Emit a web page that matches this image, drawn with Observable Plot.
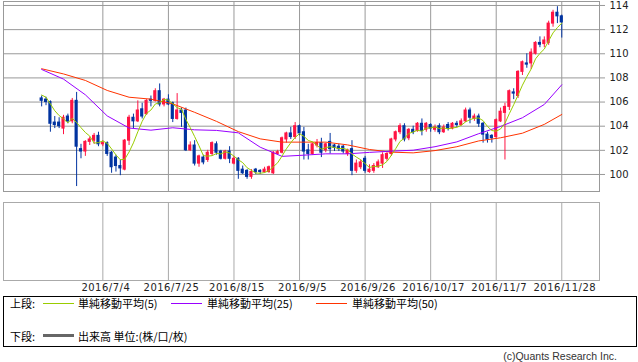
<!DOCTYPE html>
<html>
<head>
<meta charset="utf-8">
<script src="https://cdn.jsdelivr.net/npm/d3@7"></script>
<script src="https://cdn.jsdelivr.net/npm/@observablehq/plot@0.6"></script>
<style>
  html, body { margin: 0; padding: 0; background: #fff; }
  #wrap { position: relative; width: 638px; height: 362px; overflow: hidden; font-family: "DejaVu Sans", sans-serif; }
  #upper, #lower { position: absolute; left: 0; }
  #upper { top: 0; }
  #lower { top: 193px; }
  .box { position: absolute; left: 3px; top: 296px; width: 634px; height: 51px; border: 1px solid #000; box-sizing: border-box; }
  .t { position: absolute; font-family: "Noto Sans CJK JP", sans-serif; font-size: 11px; line-height: 12px; color: #000; white-space: nowrap; }
  .sw { position: absolute; height: 1px; width: 31px; }
  .copy { position: absolute; right: 21px; top: 350px; font-family: "Liberation Sans", sans-serif; font-size: 10.5px; color: #333; white-space: nowrap; }
</style>
</head>
<body>
<div id="wrap">
  <div id="upper"></div>
  <div id="lower"></div>
  <div class="box"></div>
  <span class="t" style="left:10px;top:297px">上段:</span>
  <div class="sw" id="sw5" style="left:43px;top:303px"></div>
  <span class="t" id="lg5" style="left:78px;top:297px"></span>
  <div class="sw" id="sw25" style="left:171px;top:303px"></div>
  <span class="t" id="lg25" style="left:207px;top:297px"></span>
  <div class="sw" id="sw50" style="left:316px;top:303px"></div>
  <span class="t" id="lg50" style="left:352px;top:297px"></span>
  <span class="t" style="left:10px;top:330px">下段:</span>
  <div class="sw" style="left:43px;top:334px;height:3px;background:#666"></div>
  <span class="t" id="lgVol" style="left:78px;top:330px"></span>
  <div class="copy" id="copy"></div>
</div>
<script>
// ---- data (USD/JPY daily, 2016/6/14 - 2016/11/28) ----
const startDate = "2016-06-14";
const endDate = "2016-11-28";
const open  = [106.3,106.2,106.0,104.3,104.3,103.8,104.8,104.4,106.1,102.1,101.9,102.7,102.8,103.2,102.5,102.6,101.8,101.4,100.7,100.4,
               102.8,104.7,104.4,105.4,105.0,106.2,106.1,106.9,105.8,106.2,105.9,104.6,105.3,105.3,102.0,102.4,100.9,101.4,101.2,101.7,
               102.5,101.9,101.3,101.9,100.9,101.3,100.4,100.3,99.8,100.4,100.3,100.2,100.2,100.1,101.7,101.8,102.9,103.4,103.1,104.0,
               103.5,102.0,101.7,102.4,102.6,102.0,102.7,102.4,102.3,102.3,101.7,102.1,100.3,100.6,101.3,100.2,100.3,100.6,100.9,101.3,
               101.7,102.9,103.5,104.0,103.0,103.7,103.6,104.2,103.7,104.1,103.7,104.0,103.5,104.1,103.8,104.2,104.1,104.4,105.3,104.6,
               104.8,104.2,103.3,103.2,103.1,104.4,105.1,105.6,106.8,106.5,108.5,109.2,109.2,110.0,110.9,110.8,110.9,112.5,113.4,113.1];
const high  = [106.5,106.4,106.1,104.8,104.7,104.9,105.0,106.3,106.8,102.5,102.8,103.1,103.4,103.5,102.8,102.7,101.9,101.6,101.2,102.9,
               104.9,105.0,106.1,105.9,106.2,106.5,107.1,107.5,106.3,106.6,106.0,106.7,105.5,105.5,102.7,102.8,101.6,101.6,102.0,102.7,
               102.7,102.0,102.0,102.3,101.5,101.4,100.7,100.4,100.4,100.5,100.4,100.6,100.7,101.9,102.0,103.1,103.5,103.9,104.3,104.1,
               103.9,102.5,102.6,102.9,103.0,102.6,103.4,102.5,102.5,102.4,102.1,102.8,101.2,101.2,101.5,100.8,100.9,101.2,101.8,101.8,
               103.0,103.6,104.2,104.2,103.8,104.0,104.3,104.6,104.3,104.2,104.1,104.2,104.1,104.3,104.3,104.4,104.6,105.5,105.5,105.0,
               105.0,104.3,103.5,103.3,104.6,105.5,105.9,107.0,107.1,108.6,109.4,110.0,110.4,111.0,111.4,111.4,112.7,113.6,113.9,113.2];
const low   = [105.6,105.7,103.5,103.8,103.8,103.3,104.2,104.2,99.0,101.3,101.5,102.4,102.5,102.3,102.3,101.5,100.1,100.2,99.9,100.3,
               102.4,103.8,104.3,104.6,104.9,105.6,106.0,105.6,105.6,105.7,104.3,104.5,103.9,101.9,101.9,100.7,100.6,100.8,101.0,101.5,
               101.6,101.2,101.2,100.9,100.8,99.6,100.0,99.6,99.6,100.0,100.0,100.1,100.1,100.0,101.6,101.7,102.6,102.9,102.9,103.2,
               101.2,101.2,101.6,102.2,101.4,101.8,101.7,101.9,101.9,101.7,101.5,99.9,100.1,100.4,100.1,100.1,100.1,100.5,100.5,101.1,
               101.5,102.7,103.3,102.7,102.8,103.3,103.5,103.2,103.5,103.5,103.5,103.3,103.4,103.6,103.7,103.9,104.0,104.3,104.2,104.4,
               103.9,102.6,102.6,102.6,103.0,104.3,101.2,105.3,106.2,106.3,108.2,108.8,108.7,109.9,110.5,110.5,110.7,112.2,112.5,111.3];
const close = [106.1,106.0,104.2,104.1,104.0,104.7,104.4,106.1,102.3,101.9,102.7,102.9,103.2,102.5,102.6,101.7,100.6,100.7,100.5,102.8,
               104.7,104.4,105.3,104.8,106.1,106.1,106.9,105.8,106.2,105.8,104.6,105.3,105.1,102.0,102.4,100.9,101.5,101.0,101.8,102.6,
               101.8,101.3,101.9,101.3,101.3,100.3,100.1,99.8,100.2,100.2,100.2,100.4,100.6,101.8,101.85,103.0,103.4,103.1,104.0,103.4,
               101.9,101.7,102.5,102.6,101.8,102.5,102.1,102.2,102.1,101.9,102.0,100.3,100.9,101.0,100.3,100.4,100.7,101.0,101.6,101.7,
               102.9,103.5,104.0,102.9,103.7,103.5,104.2,103.6,104.2,103.8,103.9,103.5,103.9,103.8,104.2,104.1,104.4,105.3,104.7,104.8,
               104.2,103.3,102.9,103.0,104.5,105.2,105.6,106.9,106.7,108.5,109.3,109.1,110.1,110.9,110.75,111.1,112.5,113.4,113.1,112.6];
// last four closes before the window (read back from where the 5-day average line starts)
const preCloses = [106.9, 107.0, 106.9, 106.0];
// 25- and 50-day averages at every 5th session
const maIndex = [0,5,10,15,20,25,30,35,40,45,50,55,60,65,70,75,80,85,90,95,100,105,110,115,119];
const ma25 = [108.7,107.9,106.6,104.85,103.85,103.67,103.87,103.7,103.65,103.45,102.26,101.5,101.6,101.71,101.71,101.83,101.93,102.01,102.3,102.7,103.38,103.98,104.7,105.8,107.43];
const ma50 = [108.76,108.33,107.79,106.96,106.4,106.24,105.85,105.15,104.4,103.55,102.95,102.68,102.68,102.68,102.45,102.07,101.85,101.79,101.98,102.3,102.78,103.04,103.42,104.15,104.97];
const yTicks = [100,102,104,106,108,110,112,114];
const xTickLabels = ["2016/7/4","2016/7/25","2016/8/15","2016/9/5","2016/9/26","2016/10/17","2016/11/7","2016/11/28"];
const legendLabels = ["単純移動平均(5)","単純移動平均(25)","単純移動平均(50)"];
const volumeLabel = "出来高 単位:(株/口/枚)";
const copyright = "(c)Quants Research Inc.";

// ---- styles ----
const UP = "#ff1443", DOWN = "#0033a0";
const C5 = "#99cc00", C25 = "#9900ff", C50 = "#ff3300";

// trading-day axis
const fmt = d => `${d.getUTCFullYear()}/${d.getUTCMonth()+1}/${d.getUTCDate()}`;
const dates = d3.utcDays(new Date(startDate), d3.utcDay.offset(new Date(endDate), 1))
  .filter(d => d.getUTCDay() !== 0 && d.getUTCDay() !== 6).map(fmt);
const tickIdx = xTickLabels.map(l => dates.indexOf(l));
const labelOf = new Map(tickIdx.map((k, j) => [k, xTickLabels[j]]));

const candles = open.map((o, i) => ({i, open: o, high: high[i], low: low[i], close: close[i]}));
const ups = candles.filter(d => d.close >= d.open);
const downs = candles.filter(d => d.close < d.open);
const allC = preCloses.concat(close);
const ma5 = close.map((c, i) => ({i, v: d3.mean(allC.slice(i, i + 5))}));
const ma25d = maIndex.map((k, j) => ({i: k, v: ma25[j]}));
const ma50d = maIndex.map((k, j) => ({i: k, v: ma50[j]}));

const xDomain = [-8.73, 127.63];
const baseStyle = {fontFamily: "DejaVu Sans", fontSize: "10px", background: "transparent", color: "#222"};

function candleMarks(data, col) {
  return [
    Plot.ruleX(data, {x: "i", y1: "low", y2: "high", stroke: col, strokeWidth: 1}),
    Plot.rect(data, {x1: d => d.i - 0.36, x2: d => d.i + 0.36, y1: "open", y2: "close", fill: col, insetTop: -0.5, insetBottom: -0.5})
  ];
}

const upper = Plot.plot({
  width: 638, height: 193,
  marginLeft: 3, marginRight: 39, marginTop: 1, marginBottom: 2,
  x: {type: "linear", domain: xDomain, axis: null},
  y: {type: "linear", domain: [98.59, 114.33]},
  style: baseStyle,
  marks: [
    Plot.ruleY(yTicks, {stroke: "#999"}),
    Plot.ruleX(tickIdx, {stroke: "#999"}),
    Plot.frame({stroke: "#999"}),
    Plot.axisY(yTicks, {anchor: "right", tickSize: 5, tickPadding: 5, stroke: "#999", fill: "#222", label: null, fontSize: 10}),
    ...candleMarks(ups, UP),
    ...candleMarks(downs, DOWN),
    Plot.line(ma50d, {x: "i", y: "v", stroke: C50, strokeWidth: 1}),
    Plot.line(ma25d, {x: "i", y: "v", stroke: C25, strokeWidth: 1}),
    Plot.line(ma5, {x: "i", y: "v", stroke: C5, strokeWidth: 1})
  ]
});
document.getElementById("upper").appendChild(upper);

const lower = Plot.plot({
  width: 638, height: 103,
  marginLeft: 3, marginRight: 39, marginTop: 9, marginBottom: 16,
  x: {type: "linear", domain: xDomain},
  y: {domain: [0, 1], axis: null},
  style: {...baseStyle, letterSpacing: "0.5px"},
  marks: [
    Plot.ruleX(tickIdx, {stroke: "#aaa"}),
    Plot.frame({stroke: "#aaa"}),
    Plot.axisX(tickIdx, {tickSize: 0, tickPadding: 3, dx: 3, tickFormat: k => labelOf.get(k), fill: "#222", label: null, fontSize: 10})
  ]
});
document.getElementById("lower").appendChild(lower);

// legend
document.getElementById("sw5").style.background = C5;
document.getElementById("sw25").style.background = C25;
document.getElementById("sw50").style.background = C50;
document.getElementById("lg5").textContent = legendLabels[0];
document.getElementById("lg25").textContent = legendLabels[1];
document.getElementById("lg50").textContent = legendLabels[2];
document.getElementById("lgVol").textContent = volumeLabel;
document.getElementById("copy").textContent = copyright;
</script>
</body>
</html>
